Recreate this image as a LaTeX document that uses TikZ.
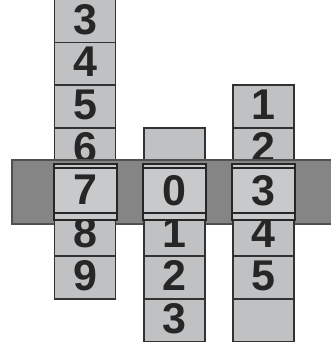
\documentclass[tikz,border=0pt]{standalone}
\usepackage{fontspec}
\setmainfont{Liberation Sans}
\definecolor{cellgray}{RGB}{192,193,195}
\definecolor{wingray}{RGB}{200,201,203}
\definecolor{bandgray}{RGB}{133,133,133}
\definecolor{bandedge}{RGB}{80,80,80}
\definecolor{linecol}{RGB}{50,50,50}
\tikzset{
  digitfont/.style={font=\fontsize{43}{43}\selectfont\bfseries, text=black!85, text depth=4pt},
  cell/.style={draw=linecol, line width=1.3pt, fill=cellgray, minimum width=61pt, minimum height=42.75pt, inner sep=0pt, digitfont},
  bandbox/.style={draw=bandedge, line width=1.6pt, fill=bandgray, minimum width=320pt, minimum height=64pt, inner sep=0pt},
  window/.style={draw=black!85, line width=2pt, fill=wingray, minimum width=63pt, minimum height=56pt, inner sep=0pt, digitfont},
  inner/.style={draw=black!85, line width=1.4pt}
}
\begin{document}
\begin{tikzpicture}[x=1pt,y=-1pt]
\useasboundingbox (0,0) rectangle (331,348);
% column 1
\node[cell] (a0) at (85,21) {3};
\node[cell] (a1) at (85,63.75) {4};
\node[cell] (a2) at (85,106.5) {5};
\node[cell] (a3) at (85,149.25) {6};
\node[cell] (a4) at (85,192) {};
\node[cell] (a6) at (85,277.5) {9};
% column 2
\node[cell] (b3) at (174.5,149.25) {};
\node[cell] (b4) at (174.5,192) {};
\node[cell] (b6) at (174.5,277.5) {2};
\node[cell] (b7) at (174.5,320.25) {3};
% column 3
\node[cell] (c2) at (263.5,106.5) {1};
\node[cell] (c3) at (263.5,149.25) {2};
\node[cell] (c4) at (263.5,192) {};
\node[cell] (c6) at (263.5,277.5) {5};
\node[cell] (c7) at (263.5,320.25) {};
% band
\node[bandbox] (band) at (172,192) {};
% cells just under the band
\node[cell] (a5) at (85,234.75) {8};
\node[cell] (b5) at (174.5,234.75) {1};
\node[cell] (c5) at (263.5,234.75) {4};
% windows
\node[window] (w1) at (85,192) {7};
\node[window] (w2) at (174.5,192) {0};
\node[window] (w3) at (263.5,192) {3};
\foreach \w in {w1,w2,w3}{
  \draw[inner] ([yshift=-5pt]\w.north west) -- ([yshift=-5pt]\w.north east);
  \draw[inner] ([yshift=8pt]\w.south west) -- ([yshift=8pt]\w.south east);
}
\end{tikzpicture}
\end{document}
